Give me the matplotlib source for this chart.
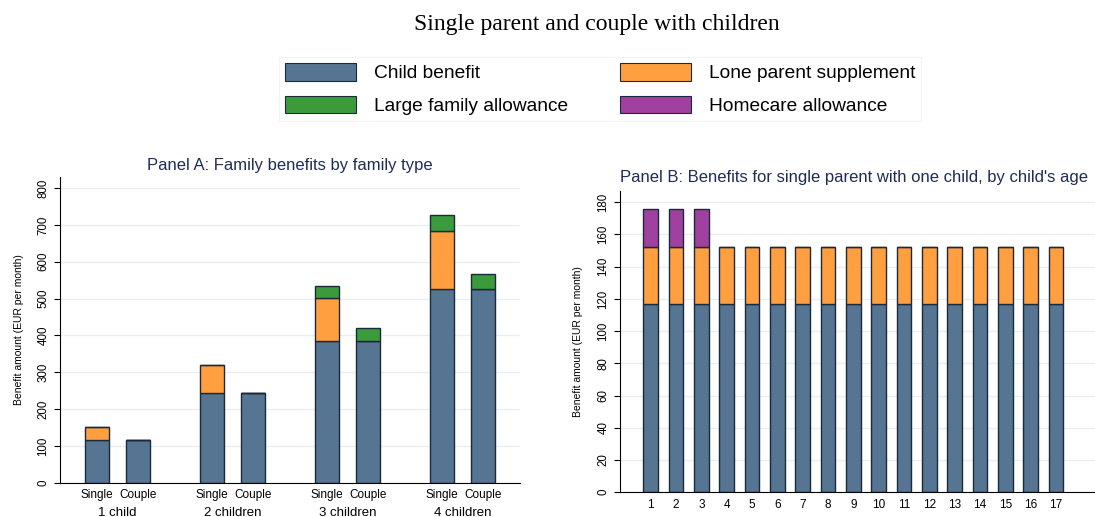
import numpy as np
import matplotlib
matplotlib.use("Agg")
import matplotlib.pyplot as plt
from matplotlib.patches import Patch
from matplotlib.transforms import blended_transform_factory

plt.rcParams["font.family"] = ["Liberation Sans", "DejaVu Sans"]

# ---- data ----
groups = ["1 child", "2 children", "3 children", "4 children"]
types = ["Single", "Couple"]
# panel A: (single, couple) per group
a_child = [[117, 117], [245, 245], [386, 386], [526, 526]]
a_lone = [[35, 0], [74, 0], [116, 0], [158, 0]]
a_large = [[0, 0], [0, 0], [33, 33], [42, 42]]

ages = list(range(1, 18))
b_child = [117] * 17
b_lone = [35] * 17
b_home = [23.5, 23.5, 23.5] + [0] * 14

C_CHILD = "#557592"
C_LONE = "#ff9f40"
C_LARGE = "#3a9a3c"
C_HOME = "#a0409f"
EDGE = "#1b2a3a"
NAVY = "#1f2d55"
GRID = "#e8eff1"

fig = plt.figure(figsize=(10.95, 5.17), dpi=100)
fig.text(0.545, 0.952, "Single parent and couple with children",
         ha="center", va="center", fontsize=17, family="Liberation Serif")

handles = [Patch(facecolor=C_CHILD, edgecolor=EDGE, lw=0.8, label="Child benefit"),
           Patch(facecolor=C_LARGE, edgecolor=EDGE, lw=0.8, label="Large family allowance"),
           Patch(facecolor=C_LONE, edgecolor=EDGE, lw=0.8, label="Lone parent supplement"),
           Patch(facecolor=C_HOME, edgecolor=EDGE, lw=0.8, label="Homecare allowance")]
leg = fig.legend(handles=handles, ncol=2, loc="center",
                 bbox_to_anchor=(0.548, 0.828), fontsize=13.8,
                 handlelength=3.7, handleheight=1.05, handletextpad=0.95,
                 columnspacing=2.7, labelspacing=0.7, frameon=True,
                 fancybox=False, borderpad=0.3)
leg.get_frame().set_edgecolor("#f0f0f0")
leg.get_frame().set_linewidth(0.8)


def style(ax):
    for s in ("top", "right"):
        ax.spines[s].set_visible(False)
    ax.spines["left"].set_color("black")
    ax.spines["bottom"].set_color("black")
    ax.yaxis.grid(True, color=GRID, lw=1)
    ax.set_axisbelow(True)
    ax.tick_params(axis="y", labelrotation=90, labelsize=8.3, length=4)
    for t in ax.get_yticklabels():
        t.set_va("center")
    ax.tick_params(axis="x", length=0)


# ---- panel A ----
axA = fig.add_axes([0.0548, 0.0658, 0.42, 0.592])
off = 0.178
w = 0.21
x = np.arange(len(groups))
for j, sgn in enumerate([-1, 1]):
    pos = x + sgn * off
    cb = np.array([g[j] for g in a_child])
    lp = np.array([g[j] for g in a_lone])
    lf = np.array([g[j] for g in a_large])
    axA.bar(pos, cb, w, color=C_CHILD, edgecolor=EDGE, lw=1)
    axA.bar(pos, lp, w, bottom=cb, color=C_LONE, edgecolor=EDGE, lw=1)
    axA.bar(pos, lf, w, bottom=cb + lp, color=C_LARGE, edgecolor=EDGE, lw=1)
axA.set_xlim(-0.5, 3.5)
axA.set_ylim(0, 830)
axA.set_yticks(range(0, 801, 100))
ticks = np.concatenate([[g - off, g + off] for g in x])
axA.set_xticks(ticks)
axA.set_xticklabels(types * len(groups), fontsize=8.5)
style(axA)
axA.tick_params(axis="x", pad=4)
tr = blended_transform_factory(axA.transData, axA.transAxes)
for g, lab in zip(x, groups):
    axA.text(g, -0.097, lab, transform=tr, ha="center", va="center", fontsize=9.5)
axA.set_ylabel("Benefit amount (EUR per month)", fontsize=7.5, labelpad=10)
axA.set_title("Panel A: Family benefits by family type", fontsize=12,
              color=NAVY, pad=5)

# ---- panel B ----
axB = fig.add_axes([0.566, 0.048, 0.434, 0.582])
bc = np.array(b_child)
bl = np.array(b_lone)
bh = np.array(b_home)
axB.bar(ages, bc, 0.58, color=C_CHILD, edgecolor=EDGE, lw=1)
axB.bar(ages, bl, 0.58, bottom=bc, color=C_LONE, edgecolor=EDGE, lw=1)
axB.bar(ages, bh, 0.58, bottom=bc + bl, color=C_HOME, edgecolor=EDGE, lw=1)
axB.set_xlim(-0.225, 18.54)
axB.set_ylim(0, 186.8)
axB.set_yticks(range(0, 181, 20))
axB.set_xticks(ages)
axB.set_xticklabels([str(a) for a in ages], fontsize=8.5)
style(axB)
axB.tick_params(axis="x", pad=5)
axB.set_ylabel("Benefit amount (EUR per month)", fontsize=7.5, labelpad=10)
axB.set_title("Panel B: Benefits for single parent with one child, by child's age",
              fontsize=12, color=NAVY, loc="left", pad=7)

fig.savefig("out.png", dpi=100)
